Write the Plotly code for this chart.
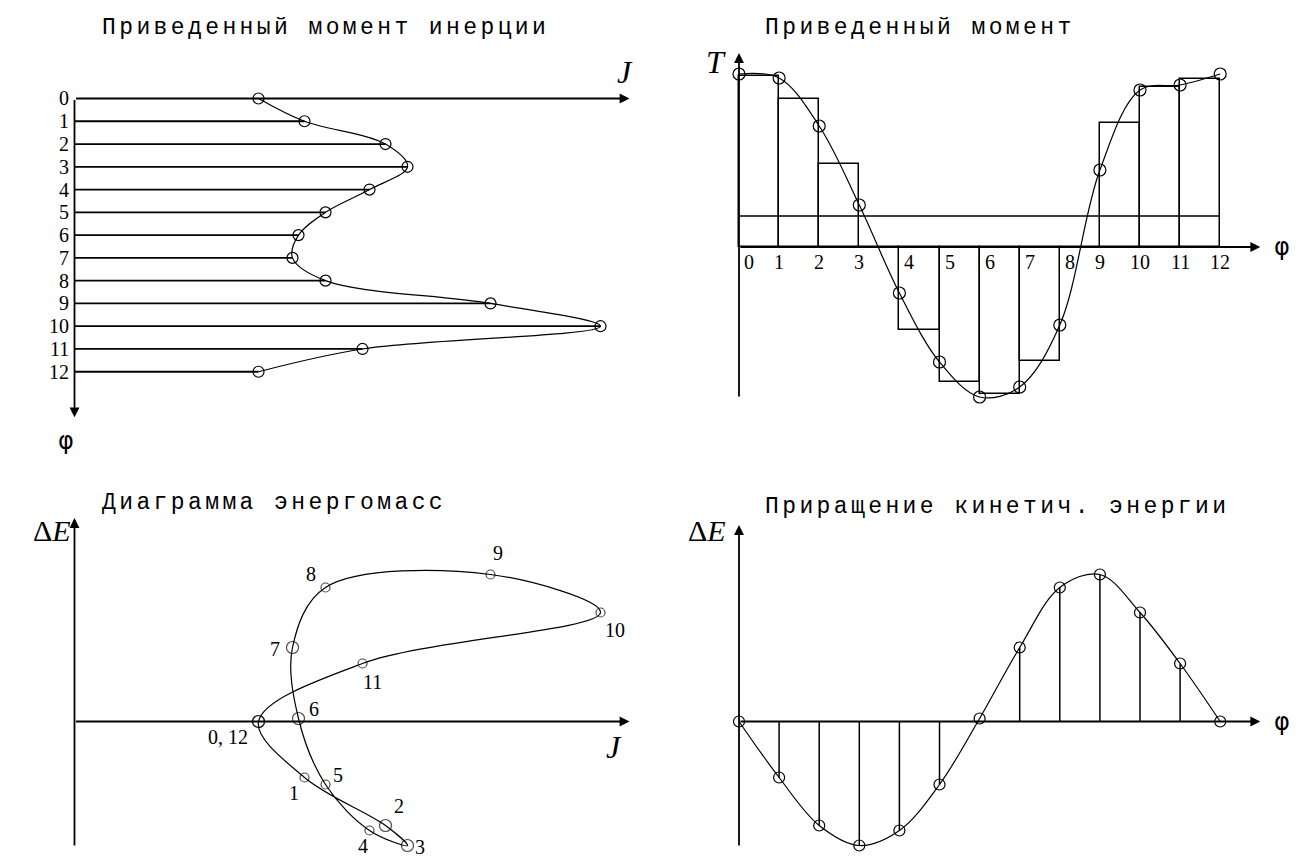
import plotly.graph_objects as go

W, H = 1304, 858

# ---- data -------------------------------------------------------------
# crank positions 0..12
positions = list(range(13))
pos_labels = [str(p) for p in positions]

# reduced moment of inertia J at each position
J = [18.4, 23.0, 31.1, 33.3, 29.5, 25.1, 22.4, 21.8, 25.1, 41.6, 52.6, 28.8, 18.4]
# reduced moment T at each position
T = [17.3, 16.9, 12.1, 4.2, -4.6, -11.5, -15.0, -14.0, -7.8, 7.7, 15.7, 16.2, 17.3]
# mean moment on each interval (stepped diagram)
T_step = [17.1, 14.8, 8.3, -0.1, -8.3, -13.5, -14.7, -11.4, 0.0, 12.4, 16.0, 16.8]
# constant moment line
T_mean = 3.1
# increment of kinetic energy
dE = [0.0, -5.6, -10.4, -12.4, -10.9, -6.3, 0.3, 7.4, 13.4, 14.7, 10.9, 5.8, 0.0]

# labels of the energy-mass diagram (position 12 shares the label of 0)
em_labels = ["0, 12", "1", "2", "3", "4", "5", "6", "7", "8", "9", "10", "11"]

# ---- styling ------------------------------------------------------------
BLACK = "black"
SERIF = "Liberation Serif"
TITLE_FONT = dict(family="Liberation Mono", size=23, color=BLACK)
NUM_FONT = dict(family=SERIF, size=20, color=BLACK)
SYM_FONT = dict(family=SERIF, size=32, color=BLACK)
PHI_FONT = dict(family="DejaVu Sans", size=24, color=BLACK)

# label offsets (px) around the energy-mass points
em_shift = [(-31, -15), (-11, -15), (13, 20), (12, -1), (-7, -15), (12, 10),
            (15, 10), (-18, -1), (-15, 14), (7, 22), (14, -17), (10, -18)]
em_marker = [12, 9, 12, 12, 9, 9, 12, 12, 9, 9, 9, 9, 12]


def frame(px, py, origin, scale):
    """Axis pair so that data origin/scale land on the given pixel frame."""
    (x0, x1), (y0, y1) = px, py
    (ox, oy), (sx, sy) = origin, scale
    xa = dict(domain=[x0 / W, x1 / W], range=[(x0 - ox) / sx, (x1 - ox) / sx],
              visible=False, fixedrange=True)
    ya = dict(domain=[1 - y1 / H, 1 - y0 / H], range=[(oy - y1) / sy, (oy - y0) / sy],
              visible=False, fixedrange=True)
    return xa, ya


# four panels: inertia (1), moment (2), energy-mass (3), energy (4)
axes = {
    1: frame((0, 650), (40, 460), (74.5, 98.5), (10.0, -22.77)),
    2: frame((650, 1304), (40, 430), (739.0, 247.0), (40.1, 10.0)),
    3: frame((0, 650), (470, 858), (74.5, 721.5), (10.0, 10.0)),
    4: frame((650, 1304), (470, 858), (739.0, 721.5), (40.1, 10.0)),
}

fig = go.Figure()


def ref(n):
    return ("x" if n == 1 else f"x{n}"), ("y" if n == 1 else f"y{n}")


def add(trace, n):
    xr, yr = ref(n)
    trace.update(xaxis=xr, yaxis=yr)
    fig.add_trace(trace)


curve_line = dict(color=BLACK, width=1.2, shape="spline", smoothing=1.0)

# ---- panel 1: reduced moment of inertia ----
rx, ry = [], []
for p, j in zip(positions[1:], J[1:]):
    rx += [0, j, None]
    ry += [p, p, None]
add(go.Scatter(x=rx, y=ry, mode="lines", line=dict(color=BLACK, width=1.8),
               hoverinfo="skip"), 1)
add(go.Scatter(x=J, y=positions, mode="lines+markers", line=curve_line,
               marker=dict(symbol="circle-open", size=11, color=BLACK, line=dict(width=1.2)),
               cliponaxis=False), 1)

# ---- panel 2: reduced moment ----
add(go.Bar(x=[p + 0.5 for p in positions[:-1]], y=T_step, width=1,
           marker=dict(color="rgba(0,0,0,0)", line=dict(color=BLACK, width=1.5))), 2)
add(go.Scatter(x=[positions[0], positions[-1]], y=[T_mean, T_mean], mode="lines",
               line=dict(color=BLACK, width=1.5)), 2)
add(go.Scatter(x=positions, y=T, mode="lines+markers", line=curve_line,
               marker=dict(symbol="circle-open", size=12, color=BLACK, line=dict(width=1.2)),
               cliponaxis=False), 2)

# ---- panel 3: energy-mass diagram ----
add(go.Scatter(x=J, y=dE, mode="lines+markers", line=curve_line,
               marker=dict(symbol="circle-open", size=em_marker, color=BLACK,
                           line=dict(width=1.2)),
               cliponaxis=False), 3)

# ---- panel 4: kinetic energy increment ----
sx_, sy_ = [], []
for p, e in zip(positions, dE):
    if abs(e) > 1.0:
        sx_ += [p, p, None]
        sy_ += [0, e, None]
add(go.Scatter(x=sx_, y=sy_, mode="lines", line=dict(color=BLACK, width=1.5)), 4)
add(go.Scatter(x=positions, y=dE, mode="lines+markers", line=curve_line,
               marker=dict(symbol="circle-open", size=11, color=BLACK, line=dict(width=1.2)),
               cliponaxis=False), 4)

annotations = []


def arrow(n, x0, y0, x1, y1):
    xr, yr = ref(n)
    annotations.append(dict(x=x1, y=y1, ax=x0, ay=y0, xref=xr, yref=yr, axref=xr, ayref=yr,
                            text="", showarrow=True, arrowhead=2, arrowsize=1.1,
                            arrowwidth=1.8, arrowcolor=BLACK, standoff=0))


def paper_text(text, px, py, font, xanchor="center", yanchor="middle"):
    annotations.append(dict(text=text, x=px / W, y=1 - py / H, xref="paper", yref="paper",
                            showarrow=False, font=font, xanchor=xanchor, yanchor=yanchor))


def spaced(s):
    return f'<span style="letter-spacing:3.4px">{s}</span>'


# axes with arrows
arrow(1, 0, 0, 55.5, 0)
arrow(1, 0, 0, 0, 14.0)
arrow(2, 0, 0, 13.0, 0)
arrow(2, 0, -15.1, 0, 19.4)
arrow(3, 0, 0, 55.5, 0)
arrow(3, 0, -12.55, 0, 20.35)
arrow(4, 0, 0, 13.0, 0)
arrow(4, 0, -12.55, 0, 19.65)

# titles
paper_text(spaced("Приведенный момент инерции"), 100, 28, TITLE_FONT, xanchor="left")
paper_text(spaced("Приведенный момент"), 763, 28, TITLE_FONT, xanchor="left")
paper_text(spaced("Диаграмма энергомасс"), 100, 503, TITLE_FONT, xanchor="left")
paper_text(spaced("Приращение кинетич. энергии"), 763, 507, TITLE_FONT, xanchor="left")

# axis symbols
paper_text("<i>J</i>", 625, 72, SYM_FONT)
paper_text("φ", 66, 441, PHI_FONT)
paper_text("<i>T</i>", 716, 62, SYM_FONT)
paper_text("φ", 1282, 247, PHI_FONT)
paper_text("Δ<i>E</i>", 73, 530, dict(SYM_FONT, size=30), xanchor="right")
paper_text("<i>J</i>", 614, 747, SYM_FONT)
paper_text("Δ<i>E</i>", 728, 530, dict(SYM_FONT, size=30), xanchor="right")
paper_text("φ", 1282, 722, PHI_FONT)

# position numbers of panel 1
for p, lab in zip(positions, pos_labels):
    annotations.append(dict(text=lab, x=0, y=p, xref="x", yref="y", showarrow=False,
                            font=NUM_FONT, xanchor="right", yanchor="middle", xshift=-4))

# position numbers under the axis of panel 2
for p, lab in zip(positions, pos_labels):
    below = p == 0 or (p > 0 and T_step[p - 1] < -1) or (p < 12 and T_step[p] < -1)
    annotations.append(dict(text=lab, x=p, y=0, xref="x2", yref="y2", showarrow=False,
                            font=NUM_FONT, xanchor="center", yanchor="middle",
                            yshift=-15, xshift=10 if below else 0))

# point labels of the energy-mass diagram
for p, lab in zip(positions, em_labels):
    dx, dy = em_shift[p]
    annotations.append(dict(text=lab, x=J[p], y=dE[p], xref="x3", yref="y3", showarrow=False,
                            font=NUM_FONT, xanchor="center", yanchor="middle",
                            xshift=dx, yshift=dy))

layout = dict(
    width=W, height=H, margin=dict(l=0, r=0, t=0, b=0),
    paper_bgcolor="white", plot_bgcolor="rgba(0,0,0,0)",
    showlegend=False, annotations=annotations, bargap=0,
    font=dict(family=SERIF, color=BLACK),
)
for n, (xa, ya) in axes.items():
    xs = "" if n == 1 else str(n)
    xa = dict(xa, anchor="y" + xs)
    ya = dict(ya, anchor="x" + xs)
    layout["xaxis" + xs] = xa
    layout["yaxis" + xs] = ya

fig.update_layout(**layout)
fig.write_html("out.html")
